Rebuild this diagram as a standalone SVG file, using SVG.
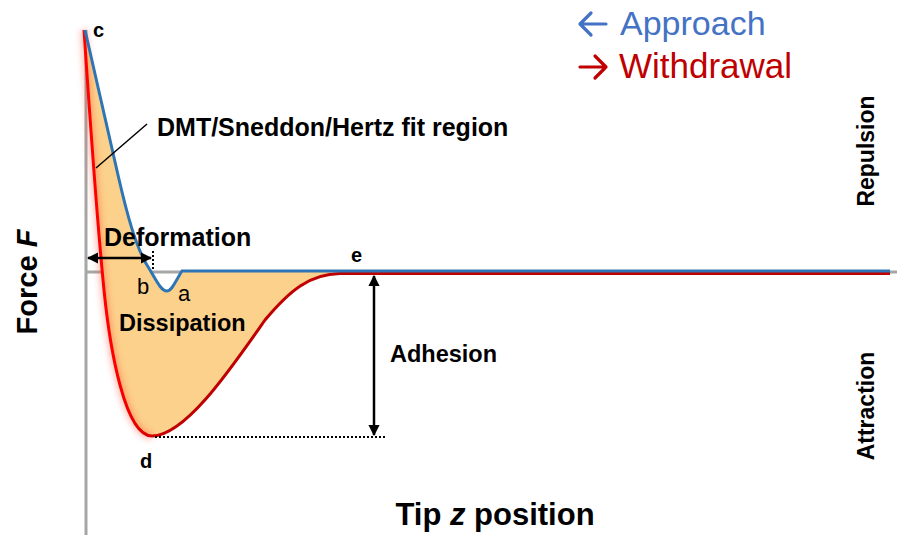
<svg xmlns="http://www.w3.org/2000/svg" width="900" height="535" viewBox="0 0 900 535">
<style>
.b{font-family:"Liberation Sans",Arial,sans-serif;font-weight:bold;fill:#000}
.n{font-family:"Liberation Sans",Arial,sans-serif;fill:#000}
.ax{stroke:#a6a6a6;stroke-width:3;fill:none}
.blk{stroke:#000;stroke-width:2.5;fill:none}
.dot{stroke:#000;stroke-width:2;stroke-dasharray:2 2;fill:none}
.lg{font-family:"Liberation Sans",Arial,sans-serif}
.la{fill:none;stroke-width:3.2;stroke-linecap:round;stroke-linejoin:round}
</style>
<defs>
<marker id="ah" viewBox="0 0 10 10" refX="9" refY="5" markerWidth="4.5" markerHeight="4.5" orient="auto-start-reverse">
<path d="M0,0 L10,5 L0,10 Z" fill="#000"/>
</marker>
<linearGradient id="rg" gradientUnits="userSpaceOnUse" x1="84" y1="0" x2="170" y2="0">
<stop offset="0" stop-color="#ff0000"/>
<stop offset="0.35" stop-color="#ff0000"/>
<stop offset="1" stop-color="#c00000"/>
</linearGradient>
<filter id="glow" x="-50%" y="-10%" width="200%" height="120%"><feGaussianBlur stdDeviation="3"/></filter>
</defs>
<rect width="900" height="535" fill="#fff"/>
<g id="axes">
<line class="ax" x1="86" y1="30" x2="86" y2="535"/>
<line class="ax" x1="86" y1="272" x2="897" y2="272"/>
</g>
<g id="fill">
<path d="M85,30 C95,75 108,130 118,175 C126,210 136,250 150,270 C156,280 161,291 167,291 C172,291 176,280 182,272 L340,272 C310,274 290,290 265,320 C230,370 185,436 152,436 C125,436 110,350 104,290 C98,230 90,120 84,30 Z" fill="#fcd18c"/>
</g>
<g id="curves">
<path d="M84,30 C90,120 98,230 104,290 C110,350 125,436 152,436" fill="none" stroke="#ff4020" stroke-width="7" opacity="0.35" filter="url(#glow)"/>
<path d="M84,30 C90,120 98,230 104,290 C110,350 125,436 152,436 C185,436 230,370 265,320 C290,290 310,274 340,273.5 L890,273.5" fill="none" stroke="url(#rg)" stroke-width="3"/>
<path d="M85,30 C95,75 108,130 118,175 C126,210 136,250 150,270 C156,280 161,291 167,291 C172,291 176,280 182,271 L890,271" fill="none" stroke="#2e75b6" stroke-width="3"/>
</g>
<g id="connectors">
<line class="blk" x1="147" y1="124" x2="96" y2="168" style="stroke-width:1.5"/>
<line class="blk" x1="88" y1="258" x2="151" y2="258" marker-start="url(#ah)" marker-end="url(#ah)"/>
<line class="dot" x1="153" y1="251" x2="153" y2="271"/>
<line class="blk" x1="374" y1="276" x2="374" y2="435" marker-start="url(#ah)" marker-end="url(#ah)"/>
<line class="dot" x1="155" y1="437" x2="386" y2="437"/>
</g>
<g id="labels">
<text class="b" x="93" y="37" font-size="20">c</text>
<text class="b" x="157" y="136" font-size="25">DMT/Sneddon/Hertz fit region</text>
<text class="b" x="104" y="246" font-size="25">Deformation</text>
<text class="n" x="137" y="294" font-size="22">b</text>
<text class="n" x="178" y="301" font-size="22">a</text>
<text class="b" x="119" y="331" font-size="23.5">Dissipation</text>
<text class="b" x="351" y="262" font-size="20">e</text>
<text class="b" x="390" y="362" font-size="23.5">Adhesion</text>
<text class="b" x="140" y="468" font-size="20">d</text>
<text class="b" x="495" y="525" font-size="31" text-anchor="middle">Tip <tspan font-style="italic">z</tspan> position</text>
<text class="b" font-size="29" text-anchor="middle" transform="translate(37,282) rotate(-90)">Force <tspan font-style="italic">F</tspan></text>
<text class="b" font-size="23" text-anchor="middle" transform="translate(874,151) rotate(-90)">Repulsion</text>
<text class="b" font-size="23" text-anchor="middle" transform="translate(874,406) rotate(-90)">Attraction</text>
</g>
<g id="legend">
<path class="la" stroke="#4472c4" d="M606,24 L580,24 M591,13 L580,24 L591,35"/>
<text class="lg" x="620" y="35" font-size="34" fill="#4472c4">Approach</text>
<path class="la" stroke="#c00000" d="M580,67 L606,67 M595,56 L606,67 L595,78"/>
<text class="lg" x="619" y="78" font-size="35" fill="#c00000">Withdrawal</text>
</g>
</svg>
